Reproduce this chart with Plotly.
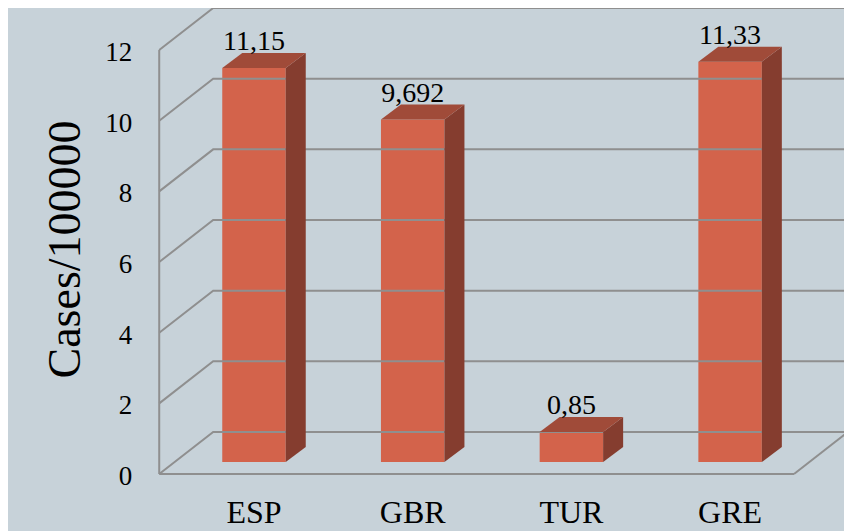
import plotly.graph_objects as go

# data
categories = ['ESP', 'GBR', 'TUR', 'GRE']
values = [11.15, 9.692, 0.85, 11.33]
y_ticks = [0, 2, 4, 6, 8, 10, 12]
y_title = 'Cases/100000'

# 3D look (in data units of the bar plane)
DX, DY = 0.34, 1.19       # full depth of the floor
F = 0.286                 # depth where the bar fronts sit
BX, BY = 0.126, 0.425     # depth of one bar
W = 0.4                   # bar width
X_LO, X_HI = -0.5, 3.5    # floor extent at the bar plane

BG = '#C7D2D9'
GRID = '#8F8F8F'
FRONT = '#D3634B'
TOP = '#A04B39'
SIDE = '#853D2F'
FONT = 'Liberation Serif'

# the page body adds an 8px offset, so pixels are measured from it
OFF = 8


def pt(x, v, d):
    # project (x, value, depth) onto the bar plane
    return x + (d - F) * DX, v + (d - F) * DY


fig = go.Figure()

# walls and grid
gx, gy = [], []
for v in y_ticks:
    for p in (pt(X_LO, v, 0), pt(X_LO, v, 1), pt(X_HI, v, 1)):
        gx.append(p[0]); gy.append(p[1])
    gx.append(None); gy.append(None)
for a, b in [((X_LO, 0, 0), (X_LO, y_ticks[-1], 0)),
             ((X_LO, 0, 0), (X_HI, 0, 0)),
             ((X_HI, 0, 0), (X_HI, 0, 1))]:
    p, q = pt(*a), pt(*b)
    gx += [p[0], q[0], None]; gy += [p[1], q[1], None]
fig.add_trace(go.Scatter(x=gx, y=gy, mode='lines',
                         line=dict(color=GRID, width=2), hoverinfo='skip'))

# bar side and top faces
for i, v in enumerate(values):
    r, l = i + W / 2, i - W / 2
    fig.add_trace(go.Scatter(
        x=[r, r, r + BX, r + BX, r], y=[0, v, v + BY, BY, 0],
        fill='toself', fillcolor=SIDE, mode='lines',
        line=dict(width=0, color=SIDE), hoverinfo='skip'))
    fig.add_trace(go.Scatter(
        x=[l, r, r + BX, l + BX, l], y=[v, v, v + BY, v + BY, v],
        fill='toself', fillcolor=TOP, mode='lines',
        line=dict(width=0, color=TOP), hoverinfo='skip'))

# bar fronts
fig.add_trace(go.Bar(x=list(range(len(values))), y=values, width=W,
                     marker=dict(color=FRONT, line=dict(width=0))))

# value labels
fig.add_trace(go.Scatter(
    x=list(range(len(values))),
    y=[v + BY - 0.12 for v in values],
    mode='text', text=[str(v).replace('.', ',') for v in values],
    textposition='top center',
    textfont=dict(family=FONT, size=28, color='black'), hoverinfo='skip'))

# tick labels on the front wall
fig.add_trace(go.Scatter(
    x=[X_LO - F * DX - 0.17] * len(y_ticks),
    y=[t - F * DY - 0.12 for t in y_ticks],
    mode='text', text=[str(t) for t in y_ticks],
    textposition='middle left',
    textfont=dict(family=FONT, size=27, color='black'), hoverinfo='skip'))

# category labels
fig.add_trace(go.Scatter(
    x=list(range(len(categories))), y=[-1.5] * len(categories),
    mode='text', text=categories, textposition='middle center',
    textfont=dict(family=FONT, size=32, color='black'), hoverinfo='skip'))

fig.add_annotation(x=(36 - OFF) / 852, y=1 - (250 - OFF) / 531,
                   xref='paper', yref='paper', text=y_title,
                   showarrow=False, textangle=-90,
                   font=dict(family=FONT, size=46, color='black'))

sx, sy = 158.7, 35.33        # pixels per category / per unit
x0, y0 = 254 - OFF, 462 - OFF
fig.update_layout(
    width=852, height=531,
    margin=dict(l=0, r=0, t=0, b=0),
    paper_bgcolor=BG, plot_bgcolor=BG,
    showlegend=False,
    xaxis=dict(range=[-x0 / sx, (852 - x0) / sx], visible=False, fixedrange=True),
    yaxis=dict(range=[(y0 - 531) / sy, y0 / sy], visible=False, fixedrange=True),
)

fig.write_html('out.html')
